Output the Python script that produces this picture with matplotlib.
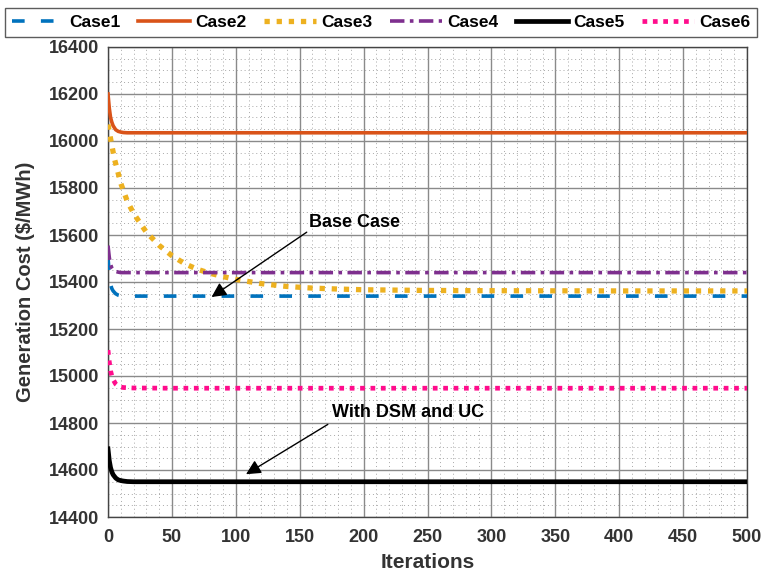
import matplotlib
matplotlib.use("Agg")
import matplotlib.pyplot as plt
from matplotlib.ticker import MultipleLocator

plt.rcParams['font.family'] = ['Liberation Sans', 'DejaVu Sans']

# Iterations and values
it_fast = [0, 1, 2, 3, 4, 6, 8, 10, 12, 15, 20, 50, 100, 200, 300, 400, 500]
case1 = [15505, 15430, 15390, 15372, 15362, 15350, 15344, 15341, 15340, 15340, 15340, 15340, 15340, 15340, 15340, 15340, 15340]
case2 = [16200, 16140, 16100, 16080, 16065, 16048, 16041, 16038, 16036, 16035, 16035, 16035, 16035, 16035, 16035, 16035, 16035]
case4 = [15555, 15505, 15475, 15460, 15452, 15445, 15442, 15440, 15440, 15440, 15440, 15440, 15440, 15440, 15440, 15440, 15440]
case5 = [14690, 14640, 14610, 14592, 14580, 14566, 14558, 14555, 14553, 14551, 14550, 14550, 14550, 14550, 14550, 14550, 14550]
case6 = [15110, 15060, 15022, 15000, 14985, 14966, 14957, 14953, 14951, 14950, 14949, 14948, 14948, 14948, 14948, 14948, 14948]

it_case3 = [0, 2, 5, 10, 15, 20, 30, 40, 50, 60, 70, 80, 90, 100, 120, 140, 160, 180, 200, 250, 300, 400, 500]
case3 = [16070, 16010, 15925, 15820, 15745, 15692, 15612, 15556, 15512, 15478, 15454, 15437, 15423, 15411, 15393, 15381, 15374, 15370, 15367, 15364, 15363, 15362, 15362]

xticks = list(range(0, 501, 50))
yticks = list(range(14400, 16401, 200))

fig = plt.figure(figsize=(7.63, 5.77), dpi=100)
ax = fig.add_axes([108/763, (577-517)/577, (747-108)/763, (517-47)/577])

ax.plot(it_fast, case1, color='#0072BD', lw=2.6, linestyle=(0, (3.5, 4.5)), label='Case1', zorder=5)
ax.plot(it_fast, case2, color='#D95319', lw=2.6, linestyle='-', label='Case2', zorder=5)
ax.plot(it_case3, case3, color='#EDB120', lw=3.8, linestyle=(0, (1, 1.3)), label='Case3', zorder=5)
ax.plot(it_fast, case4, color='#7E2F8E', lw=2.6, linestyle=(0, (4, 1.5, 1, 1.5)), label='Case4', zorder=5)
ax.plot(it_fast, case5, color='black', lw=3.4, linestyle='-', label='Case5', zorder=5)
ax.plot(it_fast, case6, color='#FF0C8C', lw=3.4, linestyle=(0, (1, 1.2)), label='Case6', zorder=5)

ax.set_xlim(0, 500)
ax.set_ylim(14400, 16400)
ax.set_xticks(xticks)
ax.set_yticks(yticks)
ax.xaxis.set_minor_locator(MultipleLocator(10))
ax.yaxis.set_minor_locator(MultipleLocator(50))
ax.grid(True, which='major', color='#8a8a8a', lw=1.0, linestyle='-')
ax.grid(True, which='minor', color='#a8a8a8', lw=0.7, linestyle=(0, (1, 3)))
ax.tick_params(which='both', length=0, labelsize=13, colors='#333333')
ax.tick_params(axis='x', pad=9)
ax.tick_params(axis='y', pad=6.5)
for lbl in ax.get_xticklabels() + ax.get_yticklabels():
    lbl.set_fontweight('bold')
for sp in ax.spines.values():
    sp.set_color('#444444')
    sp.set_linewidth(1.0)

ax.set_xlabel('Iterations', fontsize=15, fontweight='bold', color='#333333', labelpad=5)
ax.set_ylabel('Generation Cost ($/MWh)', fontsize=14.5, fontweight='bold', color='#333333', labelpad=10)

# annotations: text and arrow
ax.text(193, 15652, 'Base Case', fontsize=13, fontweight='bold', ha='center', va='center', zorder=10)
ax.annotate('', xy=(81, 15336), xytext=(155.5, 15612),
            arrowprops=dict(arrowstyle='-|>', color='black', lw=1.0, mutation_scale=22,
                            shrinkA=0, shrinkB=0), zorder=10)
ax.text(235, 14846, 'With DSM and UC', fontsize=13, fontweight='bold', ha='center', va='center', zorder=10)
ax.annotate('', xy=(108, 14582), xytext=(172, 14794),
            arrowprops=dict(arrowstyle='-|>', color='black', lw=1.0, mutation_scale=22,
                            shrinkA=0, shrinkB=0), zorder=10)

leg = fig.legend(loc='lower left', bbox_to_anchor=(5/763, 1-37/577, 752/763, 33/577),
                 mode='expand', ncol=6, frameon=True, fancybox=False, handlelength=3.0,
                 handletextpad=0.3, columnspacing=0.8, borderaxespad=0,
                 prop={'family': ['Liberation Sans', 'DejaVu Sans'], 'weight': 'bold', 'size': 12.5})
leg.get_frame().set_edgecolor('#333333')
leg.get_frame().set_linewidth(1.0)

fig.savefig('out.png', dpi=100)
